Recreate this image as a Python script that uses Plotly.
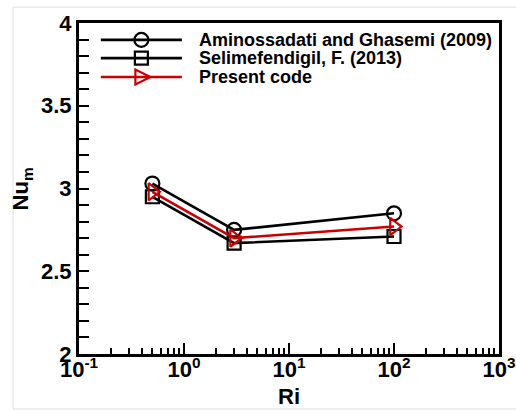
import plotly.graph_objects as go

# ---- data ----
ri = [0.5, 3, 100]
nu_amino = [3.03, 2.75, 2.85]
nu_selim = [2.95, 2.67, 2.71]
nu_present = [2.98, 2.70, 2.77]

series_names = ["Aminossadati and Ghasemi (2009)", "Selimefendigil, F. (2013)", "Present code"]
x_tickvals = [0.1, 1, 10, 100, 1000]
x_ticktext = ["10<sup>-1</sup>", "10<sup>0</sup>", "10<sup>1</sup>", "10<sup>2</sup>", "10<sup>3</sup>"]

RED = "#cc0000"
FONT = "Liberation Sans"

styles = [
    dict(color="black", symbol="circle-open", size=14),
    dict(color="black", symbol="square-open", size=13),
    dict(color=RED, symbol="triangle-right-open", size=15),
]
values = [nu_amino, nu_selim, nu_present]

fig = go.Figure()
for name, vals, st in zip(series_names, values, styles):
    fig.add_trace(go.Scatter(
        x=ri, y=vals, mode="lines+markers", name=name, showlegend=False,
        line=dict(color=st["color"], width=2.6),
        marker=dict(symbol=st["symbol"], size=st["size"], color=st["color"],
                    line=dict(width=2.2, color=st["color"])),
    ))

# invisible trace so the label axis (x2) is rendered
fig.add_trace(go.Scatter(x=x_tickvals, y=[None] * len(x_tickvals), xaxis="x2", yaxis="y",
                         mode="lines", showlegend=False, hoverinfo="skip"))

# custom legend (paper coordinates, pixel-sized symbols)
leg_rows = [0.949, 0.894, 0.837]
leg_x0, leg_x1, leg_xm, leg_xt = 0.052, 0.245, 0.1485, 0.281
for name, row, st in zip(series_names, leg_rows, styles):
    c = st["color"]
    fig.add_shape(type="line", xref="paper", yref="paper", x0=leg_x0, x1=leg_x1,
                  y0=row, y1=row, line=dict(color=c, width=2.6))
    common = dict(xref="paper", yref="paper", xsizemode="pixel", ysizemode="pixel",
                  xanchor=leg_xm, yanchor=row, line=dict(color=c, width=2.2),
                  fillcolor="rgba(0,0,0,0)")
    if st["symbol"].startswith("circle"):
        fig.add_shape(type="circle", x0=-7, x1=7, y0=-7, y1=7, **common)
    elif st["symbol"].startswith("square"):
        fig.add_shape(type="rect", x0=-6.5, x1=6.5, y0=-6.5, y1=6.5, **common)
    else:
        fig.add_shape(type="path", path="M-6,-7.5 L9,0 L-6,7.5 Z", **common)
    fig.add_annotation(x=leg_xt, y=row, xref="paper", yref="paper", text=name,
                       showarrow=False, xanchor="left", yanchor="middle",
                       font=dict(family=FONT, size=18, color="black", weight="bold"))

# axis titles as annotations
fig.add_annotation(x=-0.136, y=0.5, xref="paper", yref="paper", text="Nu<sub>m</sub>",
                   textangle=-90, showarrow=False, xanchor="center", yanchor="middle",
                   font=dict(family=FONT, size=22, color="black", weight="bold"))
fig.add_annotation(x=0.5, y=-0.128, xref="paper", yref="paper", text="Ri",
                   showarrow=False, xanchor="center", yanchor="middle",
                   font=dict(family=FONT, size=22, color="black", weight="bold"))

fig.update_layout(
    width=516, height=410,
    margin=dict(l=79, r=17, t=23, b=56, autoexpand=False),
    paper_bgcolor="white", plot_bgcolor="white",
    font=dict(family=FONT, color="black", size=20, weight="bold"),
    xaxis=dict(
        type="log", range=[-1, 3], automargin=False,
        tickmode="linear", tick0=0, dtick=1, showticklabels=False,
        ticks="inside", ticklen=11, tickwidth=2, tickcolor="black",
        minor=dict(dtick="D1", ticks="inside", ticklen=6, tickwidth=2,
                   tickcolor="black", showgrid=False),
        showline=True, linewidth=3, linecolor="black", mirror=True,
        showgrid=False, zeroline=False,
    ),
    xaxis2=dict(
        type="log", range=[-1, 3], overlaying="x", anchor="y", side="bottom",
        automargin=False, tickmode="array", tickvals=x_tickvals, ticktext=x_ticktext,
        ticks="", showline=False, showgrid=False, zeroline=False, showticklabels=True,
        tickfont=dict(family=FONT, size=22, weight="bold"),
    ),
    yaxis=dict(
        range=[2, 4], automargin=False,
        tickmode="linear", tick0=2, dtick=0.5,
        ticks="inside", ticklen=10, tickwidth=2, tickcolor="black",
        minor=dict(tickmode="linear", dtick=0.1, tick0=2, ticks="inside", ticklen=10,
                   tickwidth=2, tickcolor="black", showgrid=False),
        showline=True, linewidth=3, linecolor="black", mirror=True,
        showgrid=False, zeroline=False,
        tickfont=dict(family=FONT, size=22, weight="bold"),
    ),
    showlegend=False,
)

# faint frame around the picture
fig.add_shape(type="rect", xref="paper", yref="paper",
              x0=-0.157, x1=1.06, y0=-0.166, y1=1.048,
              line=dict(color="#dddddd", width=1), fillcolor="rgba(0,0,0,0)", layer="below")

fig.write_html("out.html")
